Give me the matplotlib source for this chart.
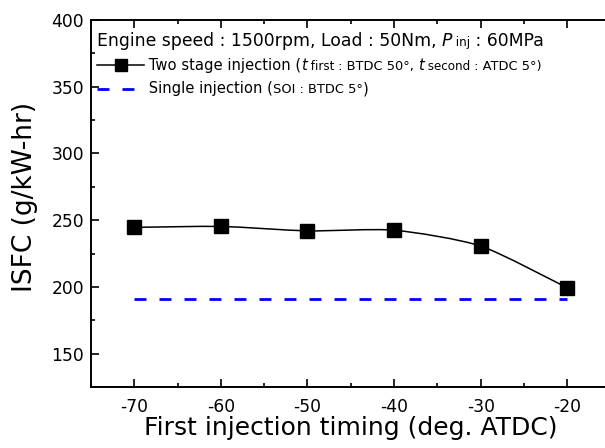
import matplotlib
matplotlib.use("Agg")
import matplotlib.pyplot as plt
import numpy as np
from matplotlib.path import Path
from matplotlib.patches import PathPatch
from matplotlib.lines import Line2D
from matplotlib.offsetbox import TextArea, HPacker, VPacker, DrawingArea, AnchoredOffsetbox

plt.rcParams['font.family'] = ['DejaVu Sans']
plt.rcParams['axes.unicode_minus'] = False

# data
timing = [-70, -60, -50, -40, -30, -20]
isfc_two_stage = [244.6, 245.3, 242.0, 242.5, 230.6, 199.3]
isfc_single = 191.3
xticks = [-70, -60, -50, -40, -30, -20]
yticks = [150, 200, 250, 300, 350, 400]


def SmoothPath(xs, ys, tension=0.7):
    # catmull-rom style curve through the points, as cubic bezier segments
    pts = np.column_stack([xs, ys]).astype(float)
    ext = np.vstack([pts[0], pts, pts[-1]])
    verts = [tuple(pts[0])]
    codes = [Path.MOVETO]
    for i in range(1, len(ext) - 2):
        p0, p1, p2, p3 = ext[i - 1], ext[i], ext[i + 1], ext[i + 2]
        c1 = p1 + tension * (p2 - p0) / 6.0
        c2 = p2 - tension * (p3 - p1) / 6.0
        verts += [tuple(c1), tuple(c2), tuple(p2)]
        codes += [Path.CURVE4] * 3
    return Path(verts, codes)


fig = plt.figure(figsize=(6.05, 4.48), dpi=100)
ax = fig.add_axes([91 / 605, 1 - 387 / 448, 519.6 / 605, 367 / 448])

ax.add_patch(PathPatch(SmoothPath(timing, isfc_two_stage), facecolor='none',
                       edgecolor='black', lw=1.1, zorder=2))
ax.plot(timing, isfc_two_stage, 's', color='black', markersize=10, zorder=3)
ax.plot([timing[0], timing[-1]], [isfc_single, isfc_single], color='#0000ff',
        lw=2.0, dashes=(4.3, 4.7), zorder=2)

ax.set_xlim(-75, -15)
ax.set_ylim(125, 400)
ax.set_xticks(xticks)
ax.set_xticks(np.arange(-75, -14, 5), minor=True)
ax.set_yticks(yticks)
ax.set_yticks(np.arange(125, 401, 25), minor=True)
ax.tick_params(which='both', direction='in', width=1.2, labelsize=12.3,
               top=True, right=False)
ax.tick_params(which='major', length=6)
ax.tick_params(which='minor', length=3)
ax.tick_params(axis='x', pad=8)
ax.tick_params(axis='y', pad=5)
for s in ax.spines.values():
    s.set_linewidth(1.4)

ax.set_xlabel("First injection timing (deg. ATDC)", fontsize=18, labelpad=0)
ax.set_ylabel("ISFC (g/kW-hr)", fontsize=19)
ax.yaxis.set_label_coords(-(91 - 38) / 519.6, (387 - 197) / 367)

# legend block built from pieces so sizes can mix
big = 12.4
mid = 10.6
small = 8.6

def Row(parts):
    boxes = [TextArea(t, textprops=p) for t, p in parts]
    return HPacker(children=boxes, align="baseline", pad=0, sep=0)

row1 = Row([("Engine speed : 1500rpm, Load : 50Nm, ", dict(size=big)),
            ("P", dict(size=big, style='italic')),
            (" inj", dict(size=small)),
            (" : 60MPa", dict(size=big))])

h1 = DrawingArea(34, 12, 0, 0)
h1.add_artist(Line2D([0, 34], [6, 6], color='black', lw=1.1))
h1.add_artist(Line2D([17], [6], marker='s', color='black', markersize=8))
txt2 = Row([(" Two stage injection (", dict(size=mid)),
            ("t", dict(size=mid, style='italic')),
            (" first", dict(size=small)),
            (" : BTDC 50°, ", dict(size=small + 0.8)),
            ("t", dict(size=mid, style='italic')),
            (" second", dict(size=small)),
            (" : ATDC 5°)", dict(size=small + 0.8))])
row2 = HPacker(children=[h1, txt2], align="center", pad=0, sep=0)

h2 = DrawingArea(34, 12, 0, 0)
h2.add_artist(Line2D([0, 34], [6, 6], color='#0000ff', lw=2.0, dashes=(4.3, 4.7)))
txt3 = Row([(" Single injection (", dict(size=mid)),
            ("SOI : BTDC 5°", dict(size=small + 0.8)),
            (")", dict(size=mid))])
row3 = HPacker(children=[h2, txt3], align="center", pad=0, sep=0)

block = VPacker(children=[row1, row2, row3], align="left", pad=0, sep=5)
anchored = AnchoredOffsetbox(loc='upper left', child=block, frameon=False,
                             bbox_to_anchor=(97 / 605, 1 - 32 / 448),
                             bbox_transform=fig.transFigure, pad=0, borderpad=0)
ax.add_artist(anchored)

fig.savefig("out.png", dpi=100)
